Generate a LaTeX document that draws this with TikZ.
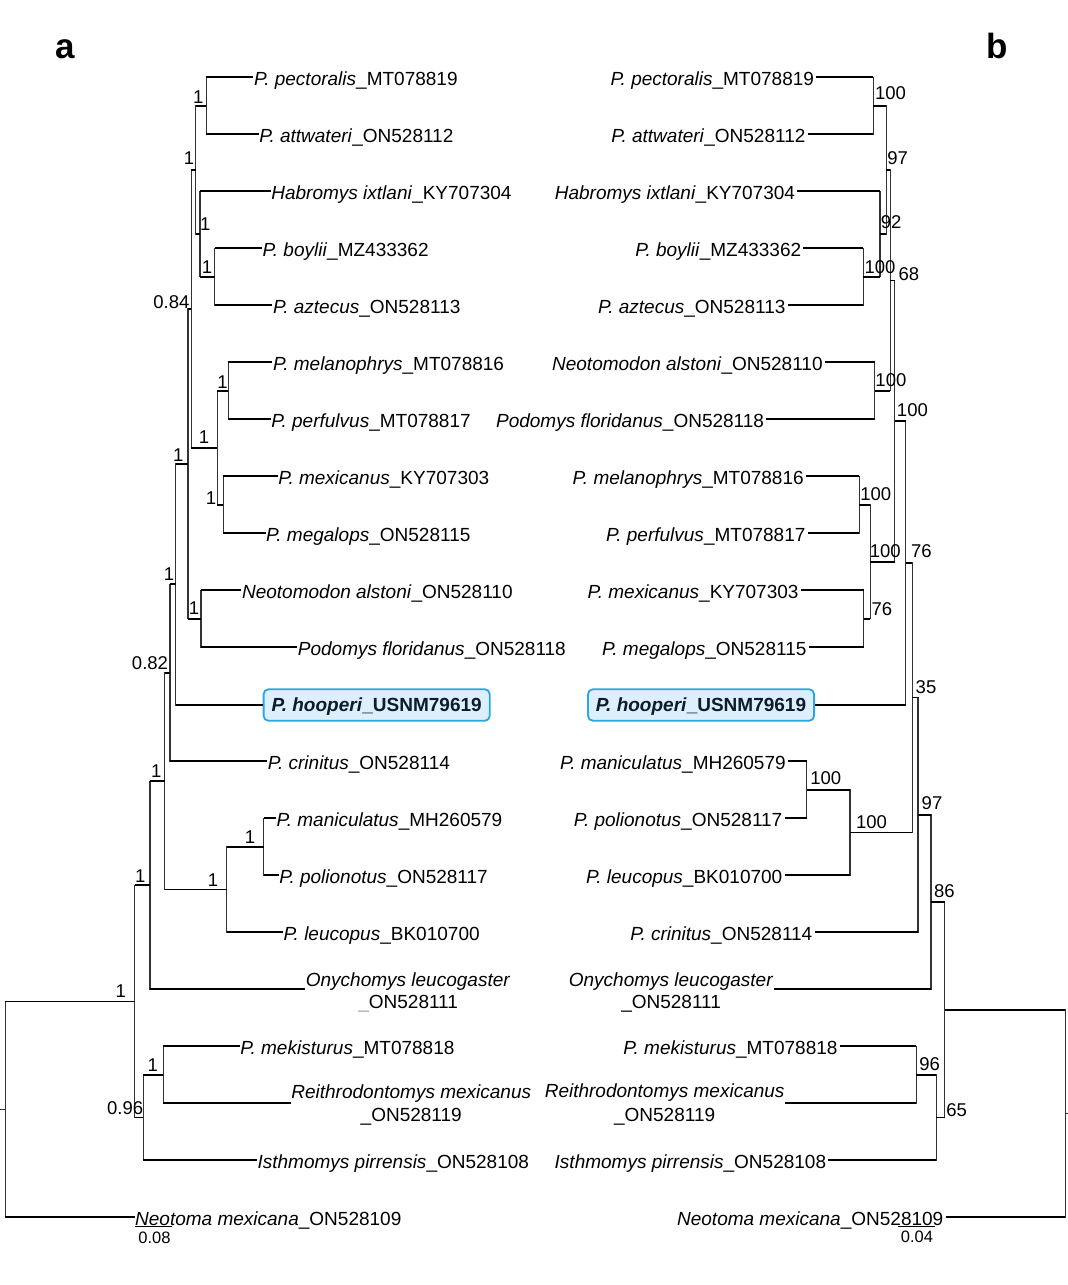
\documentclass[tikz,border=0pt]{standalone}
\usepackage{fontspec}
\setmainfont{Liberation Sans}
\definecolor{boxfill}{HTML}{DDEFFB}
\definecolor{boxline}{HTML}{2BA6E0}
\definecolor{boxtext}{HTML}{0E1B2B}
\newcommand{\tx}[2]{\textit{#1}\_#2}
\newcommand{\edge}[2]{\draw[vb] (#1) -- (#1 |- #2); \draw[hb] (#1 |- #2) -- (#2);}
\begin{document}
\begin{tikzpicture}[x=1pt,y=-1pt,
  hb/.style={line width=1.7pt, black},
  vb/.style={line width=1.1pt, black!80, line cap=rect},
  leafL/.style={anchor=west, font=\fontsize{19}{22}\selectfont, inner xsep=0.5pt, inner ysep=0pt, text height=16.8pt, text depth=0pt},
  leafR/.style={leafL, anchor=east, inner xsep=2pt},
  twoL/.style={leafL, text height=14pt},
  twoR/.style={leafR, text height=14pt},
  line2/.style={anchor=base, font=\fontsize{19}{22}\selectfont, inner sep=0pt},
  supp/.style={font=\fontsize{18.5}{18.5}\selectfont, inner sep=0pt, text height=13.2pt, text depth=0pt},
  sbl/.style={font=\fontsize{16.5}{16.5}\selectfont, inner sep=0pt, text height=11.8pt, text depth=0pt},
  panel/.style={font=\fontsize{35}{35}\selectfont\bfseries, anchor=base, inner sep=0pt},
  hoopbox/.style={draw=boxline, fill=boxfill, line width=1.8pt, rounded corners=5pt, text=boxtext, font=\fontsize{19}{22}\selectfont\bfseries, inner xsep=8pt, inner ysep=9.1pt, text height=13.4pt, text depth=0pt},
]
\useasboundingbox (0,0) rectangle (1068,1285);
\fill[white] (0,0) rectangle (1068,1285);

\node[panel] (pa) at (65.5,58) {a};
\node[panel] (pb) at (997,58) {b};

%================ LEFT TREE (a) ================
\coordinate (a_pa) at (206.2,105.8);
\coordinate (a_ba) at (214.8,276.8);
\coordinate (a_hab) at (200,234.05);
\coordinate (a_1top) at (195.5,169.93);
\coordinate (a_mp) at (228.3,390.8);
\coordinate (a_mm) at (223.1,504.8);
\coordinate (a_mel) at (217.2,447.8);
\coordinate (a_084) at (191.4,308.86);
\coordinate (a_NP) at (201,618.8);
\coordinate (a_1b) at (188,463.83);
\coordinate (a_hoop) at (175.9,584.07);
\coordinate (a_082) at (170,672.68);
\coordinate (a_mpol) at (263.8,846.8);
\coordinate (a_man) at (226.9,889.55);
\coordinate (a_1c) at (164.8,781.12);
\coordinate (a_1d) at (150,885.21);
\coordinate (a_mek) at (163.1,1074.8);
\coordinate (a_096) at (143.1,1117.55);
\coordinate (a_1e) at (134.5,1001.38);
\coordinate (a_root) at (5.2,1109.34);
\coordinate (a_tick) at (0,1109.34);

\node[leafL] (aL0) at (253.4,77.3) {\tx{P. pectoralis}{MT078819}};
\node[leafL] (aL1) at (258.6,134.3) {\tx{P. attwateri}{ON528112}};
\node[leafL] (aL2) at (270.7,191.3) {\tx{Habromys ixtlani}{KY707304}};
\node[leafL] (aL3) at (262,248.3) {\tx{P. boylii}{MZ433362}};
\node[leafL] (aL4) at (272.4,305.3) {\tx{P. aztecus}{ON528113}};
\node[leafL] (aL5) at (272.4,362.3) {\tx{P. melanophrys}{MT078816}};
\node[leafL] (aL6) at (270.7,419.3) {\tx{P. perfulvus}{MT078817}};
\node[leafL] (aL7) at (277.6,476.3) {\tx{P. mexicanus}{KY707303}};
\node[leafL] (aL8) at (265.5,533.3) {\tx{P. megalops}{ON528115}};
\node[leafL] (aL9) at (241.4,590.3) {\tx{Neotomodon alstoni}{ON528110}};
\node[leafL] (aL10) at (297.2,647.3) {\tx{Podomys floridanus}{ON528118}};
\node[hoopbox, anchor=west] (aL11) at (262.7,705) {\textit{P. hooperi}\_USNM79619};
\node[leafL] (aL12) at (267.2,761.3) {\tx{P. crinitus}{ON528114}};
\node[leafL] (aL13) at (275.9,818.3) {\tx{P. maniculatus}{MH260579}};
\node[leafL] (aL14) at (278.6,875.3) {\tx{P. polionotus}{ON528117}};
\node[leafL] (aL15) at (282.8,932.3) {\tx{P. leucopus}{BK010700}};
\node[twoL, text depth=19.2pt] (aL16) at (305.2,989.3) {\textit{Onychomys leucogaster}};
\node[line2] (aL16b) at ([yshift=-21.8pt]aL16.base) {{\color{black!35}\_}ON528111};
\node[leafL] (aL17) at (239.7,1046.3) {\tx{P. mekisturus}{MT078818}};
\node[twoL, text depth=23.4pt] (aL18) at (290.7,1103.3) {\textit{Reithrodontomys mexicanus}};
\node[line2] (aL18b) at ([yshift=-23pt]aL18.base) {\_ON528119};
\node[leafL] (aL19) at (256.9,1160.3) {\tx{Isthmomys pirrensis}{ON528108}};
\node[leafL] (aL20) at (134.5,1217.3) {\tx{Neotoma mexicana}{ON528109}};

\edge{a_pa}{aL0.west} \edge{a_pa}{aL1.west}
\edge{a_ba}{aL3.west} \edge{a_ba}{aL4.west}
\edge{a_hab}{aL2.west} \edge{a_hab}{a_ba}
\edge{a_1top}{a_pa} \edge{a_1top}{a_hab}
\edge{a_mp}{aL5.west} \edge{a_mp}{aL6.west}
\edge{a_mm}{aL7.west} \edge{a_mm}{aL8.west}
\edge{a_mel}{a_mp} \edge{a_mel}{a_mm}
\edge{a_084}{a_1top} \edge{a_084}{a_mel}
\edge{a_NP}{aL9.west} \edge{a_NP}{aL10.west}
\edge{a_1b}{a_084} \edge{a_1b}{a_NP}
\edge{a_hoop}{a_1b} \edge{a_hoop}{aL11.west}
\edge{a_082}{a_hoop} \edge{a_082}{aL12.west}
\edge{a_mpol}{aL13.west} \edge{a_mpol}{aL14.west}
\edge{a_man}{a_mpol} \edge{a_man}{aL15.west}
\edge{a_1c}{a_082} \edge{a_1c}{a_man}
\edge{a_1d}{a_1c} \edge{a_1d}{aL16.west}
\edge{a_mek}{aL17.west} \edge{a_mek}{aL18.west}
\edge{a_096}{a_mek} \edge{a_096}{aL19.west}
\edge{a_1e}{a_1d} \edge{a_1e}{a_096}
\edge{a_root}{a_1e} \edge{a_root}{aL20.west}
\draw[vb] (a_tick) -- (a_root);

\node[supp] (sa1) at (198.3,96.7) {1};
\node[supp] (sa2) at (189,158.3) {1};
\node[supp] (sa3) at (205.2,224.3) {1};
\node[supp] (sa4) at (206.9,266.7) {1};
\node[supp] (sa5) at (171.4,301.7) {0.84};
\node[supp] (sa6) at (204.1,436.7) {1};
\node[supp] (sa7) at (222.4,381.7) {1};
\node[supp] (sa8) at (211,497.7) {1};
\node[supp] (sa9) at (178.3,455) {1};
\node[supp] (sa10) at (194.1,608) {1};
\node[supp] (sa11) at (169,574.3) {1};
\node[supp] (sa12) at (150,663.3) {0.82};
\node[supp] (sa13) at (156.2,770.7) {1};
\node[supp] (sa14) at (213.1,880) {1};
\node[supp] (sa15) at (250,836.7) {1};
\node[supp] (sa16) at (140.3,876) {1};
\node[supp] (sa17) at (152.8,1065) {1};
\node[supp] (sa18) at (125.2,1108.3) {0.96};
\node[supp] (sa19) at (120.7,991) {1};

\coordinate (sbA1) at (135.2,1226.7);
\coordinate (sbA2) at (171.7,1226.7);
\draw[line width=1.5pt] (sbA1) -- (sbA2);
\node[sbl] (sbAl) at (154.5,1237.2) {0.08};

%================ RIGHT TREE (b) ================
\coordinate (r_pa) at (873.1,105.8);
\coordinate (r_ba) at (863.4,276.8);
\coordinate (r_92) at (880,234.05);
\coordinate (r_97) at (886.2,169.93);
\coordinate (r_NP) at (874.8,390.8);
\coordinate (r_68) at (890.3,280.35);
\coordinate (r_mp) at (859.3,504.8);
\coordinate (r_mm) at (863.8,618.8);
\coordinate (r_mel) at (870.3,561.8);
\coordinate (r_100b) at (894.8,421.08);
\coordinate (r_76) at (905.9,562.69);
\coordinate (r_mpol) at (806.6,789.8);
\coordinate (r_man) at (850,832.55);
\coordinate (r_35) at (912.1,697.62);
\coordinate (r_97b) at (918,814.96);
\coordinate (r_86) at (931,902.13);
\coordinate (r_96) at (916.2,1074.8);
\coordinate (r_65) at (936.2,1117.55);
\coordinate (r_top) at (944.8,1009.84);
\coordinate (r_root) at (1065.2,1113.57);
\coordinate (r_tick) at (1068,1113.57);

\node[leafR] (bL0) at (816.2,77.3) {\tx{P. pectoralis}{MT078819}};
\node[leafR] (bL1) at (807.6,134.3) {\tx{P. attwateri}{ON528112}};
\node[leafR] (bL2) at (797.2,191.3) {\tx{Habromys ixtlani}{KY707304}};
\node[leafR] (bL3) at (803.4,248.3) {\tx{P. boylii}{MZ433362}};
\node[leafR] (bL4) at (787.6,305.3) {\tx{P. aztecus}{ON528113}};
\node[leafR] (bL5) at (824.8,362.3) {\tx{Neotomodon alstoni}{ON528110}};
\node[leafR] (bL6) at (766.2,419.3) {\tx{Podomys floridanus}{ON528118}};
\node[leafR] (bL7) at (805.9,476.3) {\tx{P. melanophrys}{MT078816}};
\node[leafR] (bL8) at (807.6,533.3) {\tx{P. perfulvus}{MT078817}};
\node[leafR] (bL9) at (800.7,590.3) {\tx{P. mexicanus}{KY707303}};
\node[leafR] (bL10) at (808.6,647.3) {\tx{P. megalops}{ON528115}};
\node[hoopbox, anchor=east] (bL11) at (815,705) {\textit{P. hooperi}\_USNM79619};
\node[leafR] (bL12) at (787.9,761.3) {\tx{P. maniculatus}{MH260579}};
\node[leafR] (bL13) at (784.5,818.3) {\tx{P. polionotus}{ON528117}};
\node[leafR] (bL14) at (784.5,875.3) {\tx{P. leucopus}{BK010700}};
\node[leafR] (bL15) at (814.5,932.3) {\tx{P. crinitus}{ON528114}};
\node[twoR, text depth=20.6pt, inner xsep=0pt] (bL16) at (773.5,989.3) {\textit{Onychomys leucogaster}};
\node[line2] (bL16b) at ([yshift=-22.7pt]bL16.base) {\_ON528111};
\node[leafR] (bL17) at (839.7,1046.3) {\tx{P. mekisturus}{MT078818}};
\node[twoR, text depth=25.4pt, inner xsep=0.5pt] (bL18) at (785.2,1103.3) {\textit{Reithrodontomys mexicanus}};
\node[line2] (bL18b) at ([yshift=-23.4pt]bL18.base) {\_ON528119};
\node[leafR] (bL19) at (828.3,1160.3) {\tx{Isthmomys pirrensis}{ON528108}};
\node[leafR] (bL20) at (945.5,1217.3) {\tx{Neotoma mexicana}{ON528109}};

\edge{r_pa}{bL0.east} \edge{r_pa}{bL1.east}
\edge{r_ba}{bL3.east} \edge{r_ba}{bL4.east}
\edge{r_92}{bL2.east} \edge{r_92}{r_ba}
\edge{r_97}{r_pa} \edge{r_97}{r_92}
\edge{r_NP}{bL5.east} \edge{r_NP}{bL6.east}
\edge{r_68}{r_97} \edge{r_68}{r_NP}
\edge{r_mp}{bL7.east} \edge{r_mp}{bL8.east}
\edge{r_mm}{bL9.east} \edge{r_mm}{bL10.east}
\edge{r_mel}{r_mp} \edge{r_mel}{r_mm}
\edge{r_100b}{r_68} \edge{r_100b}{r_mel}
\edge{r_76}{r_100b} \edge{r_76}{bL11.east}
\edge{r_mpol}{bL12.east} \edge{r_mpol}{bL13.east}
\edge{r_man}{r_mpol} \edge{r_man}{bL14.east}
\edge{r_35}{r_76} \edge{r_35}{r_man}
\edge{r_97b}{r_35} \edge{r_97b}{bL15.east}
\edge{r_86}{r_97b} \edge{r_86}{bL16.east}
\edge{r_96}{bL17.east} \edge{r_96}{bL18.east}
\edge{r_65}{r_96} \edge{r_65}{bL19.east}
\edge{r_top}{r_86} \edge{r_top}{r_65}
\edge{r_root}{r_top} \edge{r_root}{bL20.east}
\draw[vb] (r_root) -- (r_tick);

\node[supp] (sb1) at (890.5,93.3) {100};
\node[supp] (sb2) at (897.6,158.3) {97};
\node[supp] (sb3) at (891.2,221.7) {92};
\node[supp] (sb4) at (880,266.7) {100};
\node[supp] (sb5) at (908.8,274.3) {68};
\node[supp] (sb6) at (890.9,380) {100};
\node[supp] (sb7) at (912.4,410) {100};
\node[supp] (sb8) at (875.7,494.3) {100};
\node[supp] (sb9) at (885.2,550.7) {100};
\node[supp] (sb10) at (881.9,609.3) {76};
\node[supp] (sb11) at (921.4,550.7) {76};
\node[supp] (sb12) at (926,686.7) {35};
\node[supp] (sb13) at (825.7,777.7) {100};
\node[supp] (sb14) at (871.6,821.7) {100};
\node[supp] (sb15) at (932,802.7) {97};
\node[supp] (sb16) at (944.3,890.7) {86};
\node[supp] (sb17) at (929.7,1064) {96};
\node[supp] (sb18) at (956.7,1110) {65};

\coordinate (sbB1) at (898.3,1226.7);
\coordinate (sbB2) at (935.2,1226.7);
\draw[line width=1.5pt] (sbB1) -- (sbB2);
\node[sbl] (sbBl) at (917,1236.3) {0.04};
\end{tikzpicture}
\end{document}
